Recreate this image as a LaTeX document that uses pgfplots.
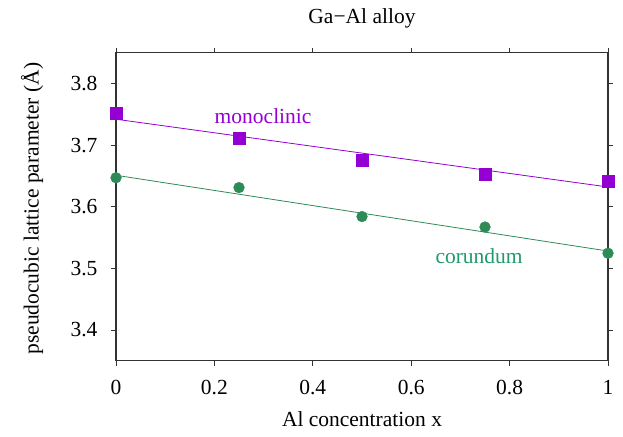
\documentclass[border=0pt]{standalone}
\usepackage{fontspec}
\setmainfont{Liberation Serif}
\usepackage{pgfplots}
\pgfplotsset{compat=1.18}
\definecolor{mono}{HTML}{9400D3}
\definecolor{coru}{HTML}{2E8B57}
\definecolor{corutxt}{HTML}{1F9A6A}
\begin{document}
\begin{tikzpicture}[x=1pt,y=1pt]
\useasboundingbox (-116,-75.3) rectangle (507,360.7);
\begin{axis}[
  at={(0,0)}, anchor=south west,
  scale only axis, width=492pt, height=308pt,
  xmin=0, xmax=1, ymin=3.35, ymax=3.85,
  xtick={0,0.2,0.4,0.6,0.8,1},
  ytick={3.4,3.5,3.6,3.7,3.8},
  yticklabel style={/pgf/number format/fixed,/pgf/number format/fixed zerofill,/pgf/number format/precision=1, xshift=-10pt},
  /pgf/number format/assume math mode=true,
  tick align=outside, tick pos=both,
  major tick length=5pt,
  tick style={black!80, line width=0.8pt},
  axis line style={black!80, line width=1.2pt},
  font=\rmfamily\fontsize{21.5}{25}\selectfont,
  ticklabel style={font=\rmfamily\fontsize{21.5}{25}\selectfont},
  xticklabel style={yshift=-11pt},
  title={Ga\textminus Al alloy},
  title style={at={(0.5,1)}, yshift=15pt},
  xlabel={Al concentration x},
  xlabel style={at={(axis description cs:0.5,0)}, anchor=base, yshift=-66pt},
  ylabel={pseudocubic lattice parameter (Å)},
  ylabel style={at={(axis description cs:-0.1707,0.5)}, anchor=center, xshift=-2pt},
  clip=false,
]
\addplot[mono, line width=0.8pt, forget plot] coordinates {(0,3.742) (1,3.632)};
\addplot[coru, line width=0.8pt, forget plot] coordinates {(0,3.651) (1,3.528)};
\addplot[only marks, mark=square*, mark size=6pt, mono, mark options={fill=mono, draw=mono}] coordinates {
  (0,3.752) (0.25,3.712) (0.5,3.676) (0.75,3.653) (1,3.642)};
\addplot[only marks, mark=*, mark size=5.4pt, coru, mark options={fill=coru, draw=coru}] coordinates {
  (0,3.647) (0.25,3.631) (0.5,3.584) (0.75,3.567) (1,3.5245)};
\node[text=mono, font=\rmfamily\fontsize{21.5}{25}\selectfont] at (axis cs:0.299,3.747) {monoclinic};
\node[text=corutxt, font=\rmfamily\fontsize{21.5}{25}\selectfont] at (axis cs:0.738,3.519) {corundum};
\end{axis}
\end{tikzpicture}
\end{document}
